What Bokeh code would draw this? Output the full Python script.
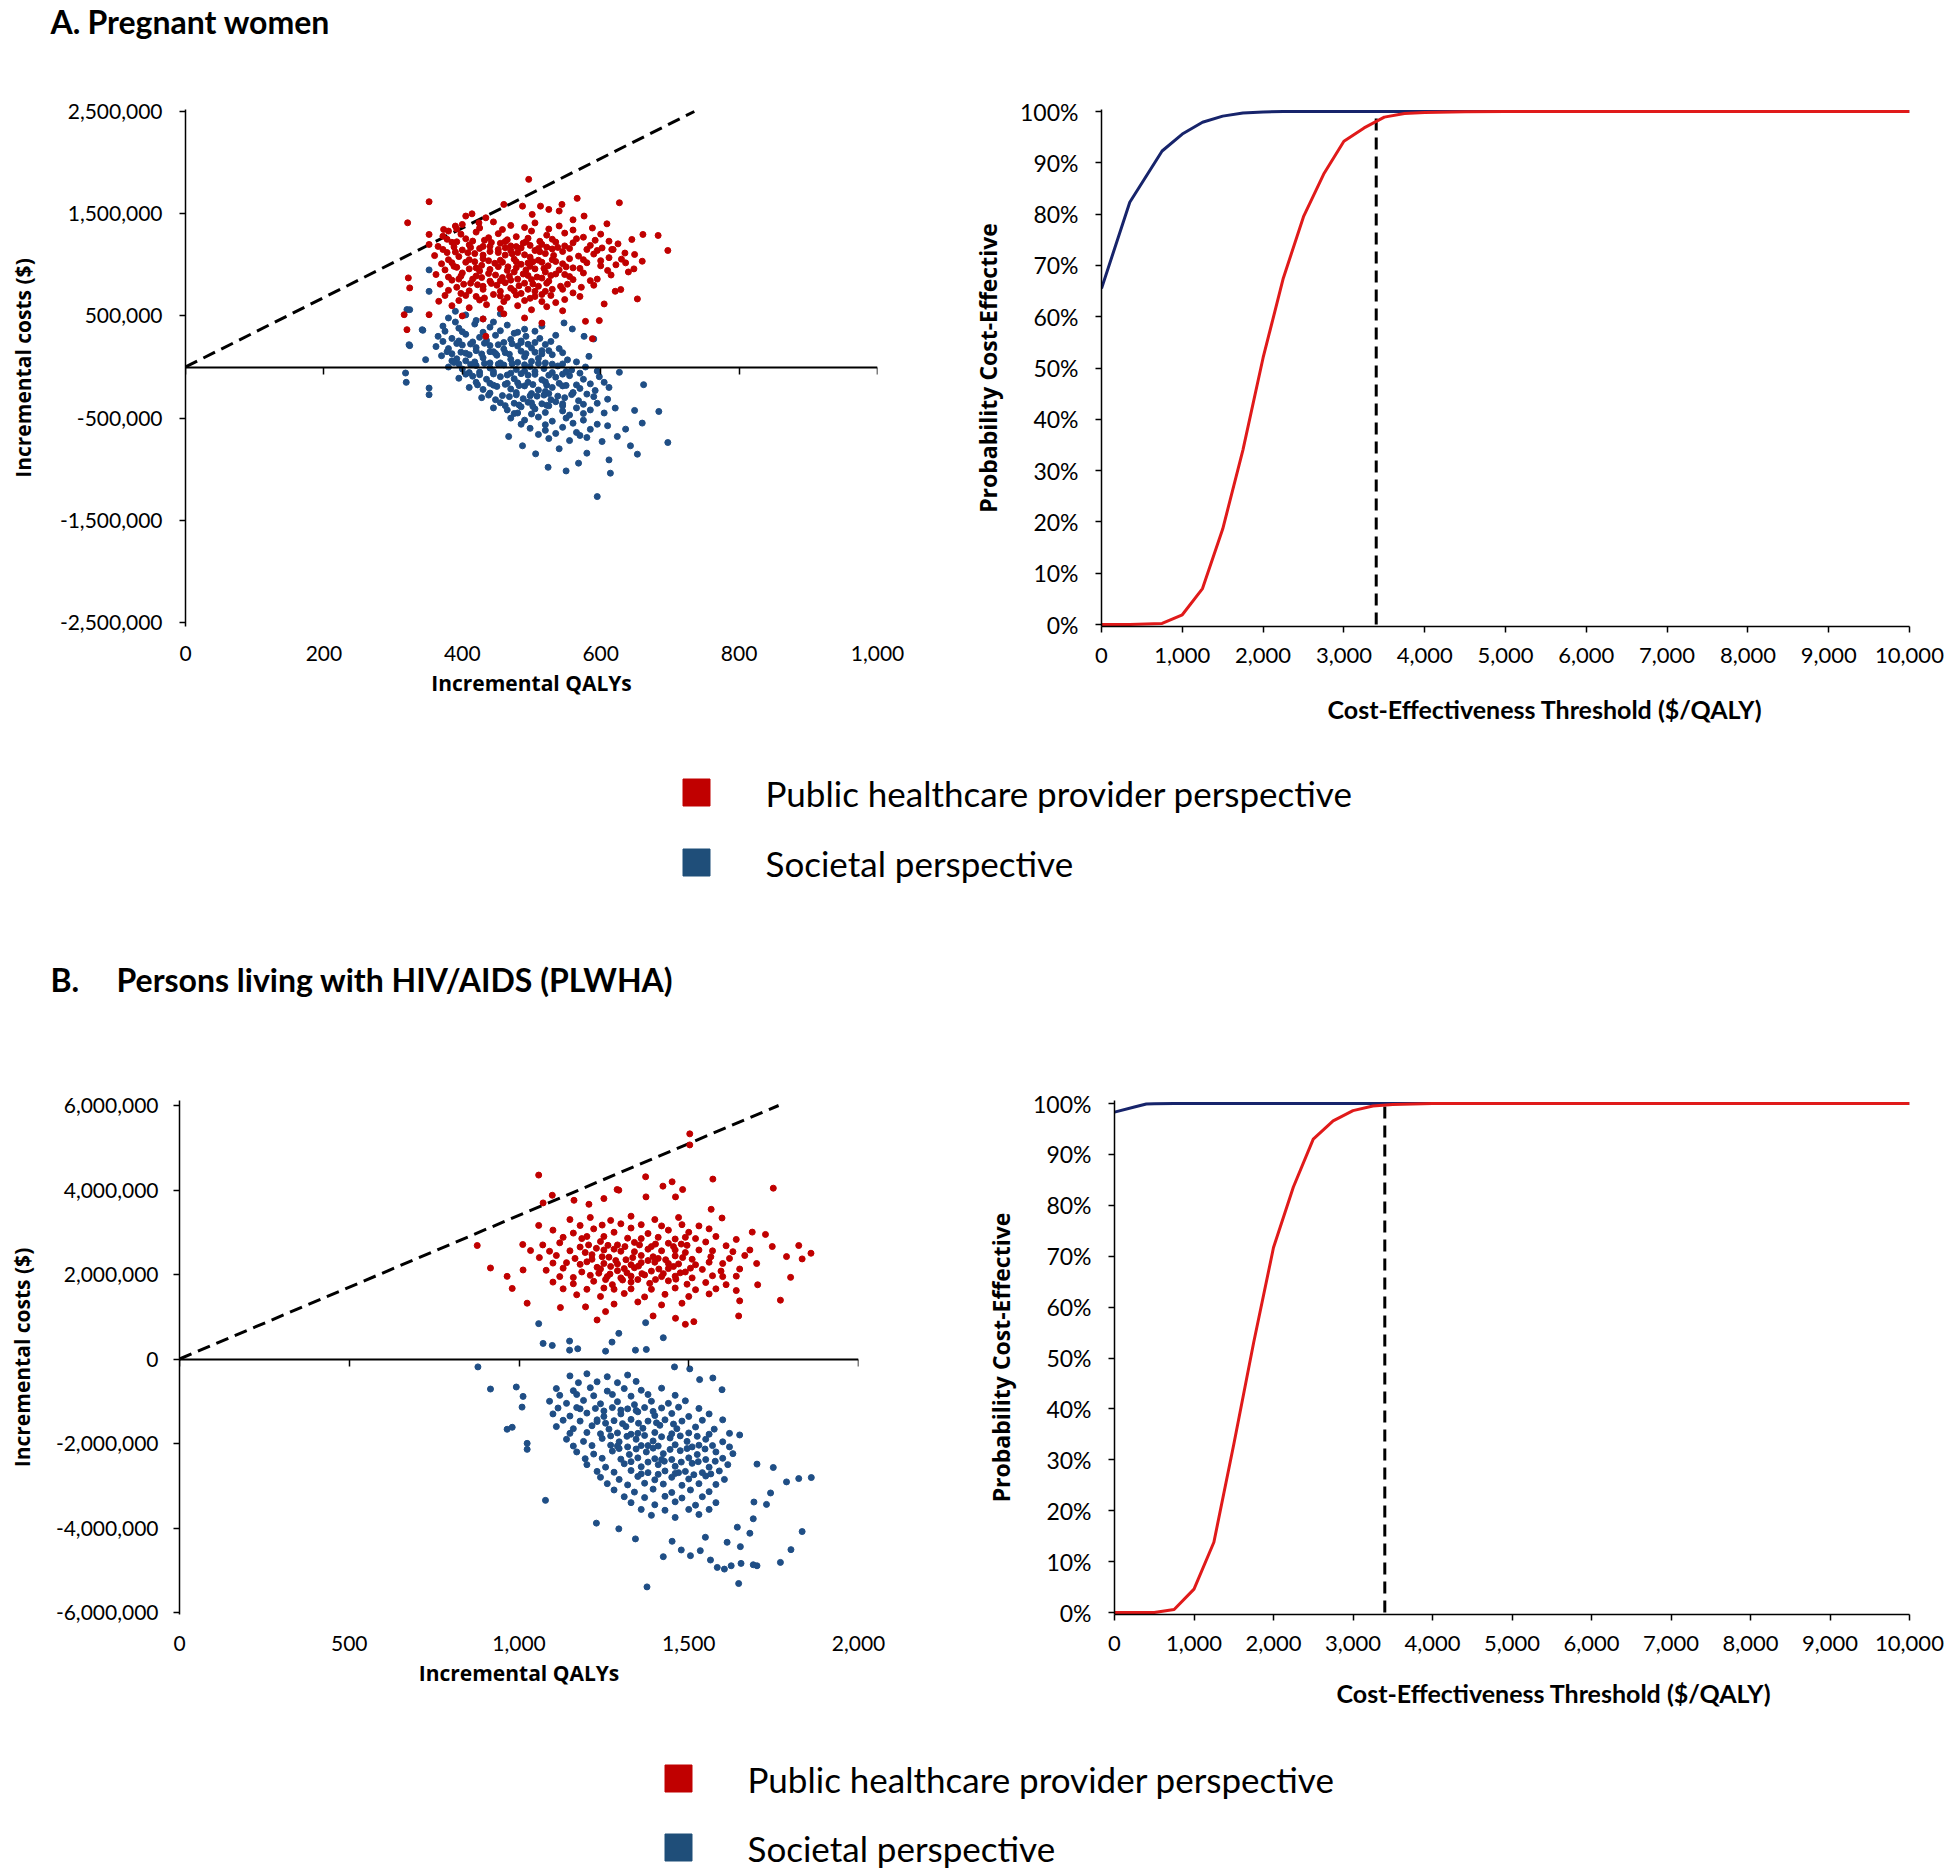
from bokeh.plotting import figure
from bokeh.layouts import column, row
from bokeh.models import (Range1d, LinearAxis, FixedTicker, NumeralTickFormatter,
                          PrintfTickFormatter, CustomJSTickFormatter, Title)
from bokeh.core.properties import value
from bokeh.embed import file_html
from bokeh.resources import INLINE

# ---------------- data ----------------
WTP = 3400  # cost-effectiveness threshold ($/QALY)

# Panel A scatter: (incremental QALYs, incremental cost in $ thousands)
a_provider_pts = [
    (496,1836),(352,1617),(321,1411),(566,1650),(627,1607),(697,1140),(683,1287),(661,1297),
    (645,1248),(660,1035),(649,1101),(636,1019),(653,666),(629,758),(621,741),(612,1231),
    (609,1401),(616,1150),(576,1477),(316,512),(320,365),(324,774),(322,872),(352,1297),
    (352,1199),(373,1346),(578,447),(598,454),(588,277),(605,617),(352,512),(366,643),
    (434,300),(405,1477),(414,1499),(460,1591),(487,1574),(513,1574),(525,1542),(540,1526),
    (544,1591),(501,1493),(434,1460),(424,1411),(390,1379),
    (400,1395),(445,1420),(470,1385),(505,1410),(540,1380),(560,1440),(588,1360),(380,1330),
    (372,1280),(398,1300),(420,1320),(452,1305),(478,1275),(500,1330),(522,1290),(548,1310),
    (575,1270),(600,1300),(365,1180),(385,1220),(410,1195),(432,1240),(455,1210),(470,1185),
    (492,1225),(515,1200),(538,1170),(560,1215),(585,1190),(602,1165),(625,1205),(360,1090),
    (378,1120),(395,1080),(418,1110),(440,1130),(462,1095),(480,1120),(498,1075),(520,1110),
    (545,1130),(568,1085),(590,1105),(612,1070),(635,1115),(370,1010),(388,985),(405,1025),
    (428,995),(447,1015),(466,980),(485,1005),(502,1030),(524,990),(545,1010),(560,970),
    (580,1020),(600,990),(622,1000),(648,960),(362,905),(380,880),(400,920),(420,890),
    (438,915),(458,875),(475,930),(495,895),(515,870),(535,910),(555,885),(575,920),
    (595,860),(615,900),(368,810),(392,780),(412,820),(430,790),(450,800),(470,770),
    (490,820),(510,790),(530,760),(552,810),(572,780),(590,800),(375,700),(398,720),
    (420,690),(445,710),(465,680),(485,720),(505,690),(528,700),(548,660),(570,690),
    (385,600),(410,580),(435,610),(455,570),(480,600),(500,560),(522,590),(545,550),
    (400,500),(430,470),(460,520),(490,480),(515,430),
    (410,1050),(455,1045),(492,950),(530,1050),(425,940),(470,1140),(510,1160),(440,840),
    (480,860),(520,930),(455,740),(505,740),(395,860),(545,760),(430,1180),(580,1150),
    (392,1350),(425,1360),(458,1345),(490,1365),(525,1350),(560,1340),
    (378,1250),(405,1255),(438,1265),(465,1245),(495,1260),(530,1250),(565,1255),(592,1240),
    (372,1150),(400,1145),(425,1160),(452,1150),(485,1165),(505,1140),(530,1155),(555,1160),
    (595,1140),(618,1150),(380,1050),(430,1060),(475,1055),(510,1045),(555,1060),(575,1050),
    (600,1040),(630,1055),(375,950),(410,960),(440,955),(465,945),(505,960),(540,950),
    (570,965),(610,945),(640,930),(385,850),(415,860),(455,845),(470,850),(500,855),
    (525,840),(560,855),(585,845),(380,750),(410,745),(430,760),(475,745),(495,760),
    (520,740),(560,725),(395,650),(425,655),(460,640),(490,650),(515,640),(535,630),
    (392,1225),(415,1232),(442,1218),(462,1228),(488,1212),(512,1230),(535,1222),
    (388,1175),(412,1170),(440,1180),(462,1168),(478,1178),(498,1190),(522,1172),(548,1185),
    (390,1125),(408,1118),(430,1095),(452,1120),(472,1108),(490,1098),(512,1128),(532,1092),
    (385,1020),(418,1030),(438,1040),(458,1025),(478,1030),(495,1018),(515,1025),(535,1032),
    (392,975),(420,970),(452,982),(478,972),(498,985),(518,965),(550,980),
    (398,890),(428,875),(448,900),(468,888),(488,910),(508,880),(528,895),(548,905),
    (402,810),(422,805),(442,818),(462,825),(482,795),(502,812),(522,820),(542,790),
    (405,700),(432,675),(455,695),(478,705),(498,672),(515,710),
]
a_societal_pts = [
    (595,-1268),(614,-1039),(550,-1017),(524,-981),(568,-941),(697,-739),(653,-853),(643,-771),
    (660,-549),(684,-435),(649,-425),(662,-173),(627,-52),(583,104),(590,274),(576,300),
    (559,372),(547,431),(324,209),(320,562),(318,-59),(319,-150),(347,72),(343,359),
    (352,-271),(352,-206),(612,-909),(624,-680),(636,-608),(487,-771),(506,-850),(467,-680),
    (621,-402),(580,-843),(602,-729),(352,950),(352,740),(324,561),(323,218),(342,365),(390,545),
    (380,480),(405,510),(430,470),(455,520),(372,400),(395,380),(418,420),(440,390),
    (465,410),(490,370),(515,400),(365,300),(385,280),(405,320),(425,290),(448,310),
    (470,270),(492,300),(512,280),(535,310),(362,200),(380,180),(400,215),(420,190),
    (440,210),(460,175),(480,205),(500,185),(520,220),(540,180),(370,110),(392,80),
    (410,120),(430,90),(450,115),(470,75),(490,100),(510,85),(530,120),(552,70),
    (380,0),(400,-20),(420,15),(440,-10),(460,20),(478,-25),(498,5),(518,-15),
    (538,10),(558,-30),(578,0),(395,-110),(415,-90),(435,-120),(455,-95),(475,-115),
    (495,-80),(515,-125),(535,-100),(555,-85),(575,-120),(598,-95),(410,-200),(430,-220),
    (450,-190),(470,-215),(490,-185),(510,-225),(530,-200),(550,-180),(570,-210),(592,-230),
    (612,-200),(428,-300),(448,-320),(468,-290),(488,-310),(508,-285),(528,-320),(548,-300),
    (568,-330),(590,-290),(610,-315),(445,-400),(465,-420),(485,-390),(505,-410),(525,-380),
    (545,-430),(565,-400),(585,-420),(605,-450),(470,-500),(490,-520),(510,-490),(530,-530),
    (550,-500),(575,-520),(595,-560),(498,-600),(520,-620),(545,-590),(565,-640),(585,-610),
    (525,-700),(555,-720),(580,-690),(540,-800),
    (405,60),(445,150),(485,240),(425,-50),(465,-160),(505,-45),(525,-260),(545,-360),
    (455,40),(495,-150),(385,60),(475,330),(515,160),(560,-250),(500,-350),(480,-450),
    (390,440),(420,455),(445,440),(375,350),(400,345),(430,340),(455,355),(480,340),
    (505,350),(372,250),(395,255),(415,245),(435,260),(460,240),(485,255),(505,240),
    (528,250),(378,150),(398,145),(420,160),(440,150),(462,140),(485,155),(505,145),
    (525,160),(545,140),(388,45),(418,50),(440,40),(480,45),(500,55),(520,40),
    (545,30),(565,50),(410,-55),(445,-45),(470,-60),(490,-40),(530,-55),(550,-45),
    (570,-60),(595,-40),(420,-150),(440,-160),(480,-155),(520,-145),(540,-160),(585,-165),
    (605,-150),(440,-255),(478,-250),(500,-260),(520,-240),(560,-255),(580,-265),(455,-350),
    (475,-355),(495,-345),(515,-360),(535,-340),(575,-365),(595,-355),(475,-455),(500,-460),
    (520,-445),(555,-470),(575,-455),(485,-560),(520,-565),(560,-550),(610,-575),(510,-660),
    (535,-650),(570,-670),
    (392,230),(412,225),(432,232),(452,218),(472,228),(495,222),
    (385,130),(405,135),(428,128),(448,132),(468,125),(492,130),(515,128),
    (395,30),(412,25),(432,35),(452,28),(472,32),(490,22),(510,35),(530,28),
    (405,-70),(425,-75),(445,-68),(465,-78),(485,-65),(505,-72),(525,-80),(545,-70),
    (422,-175),(445,-178),(462,-170),(482,-182),(502,-172),(522,-178),(545,-185),(565,-175),
    (438,-275),(458,-280),(478,-272),(498,-282),(518,-275),(538,-285),(558,-270),
    (462,-378),(482,-372),(502,-385),(522,-375),(545,-380),
]

# Panel B scatter: (incremental QALYs, incremental cost in $ thousands)
b_provider_pts = [
    (1503,5329),(1503,5067),(1058,4353),(1373,4313),(1571,4258),(1749,4043),(1424,4091),(1451,4194),
    (1482,4011),(1461,3837),(1374,3837),(1294,3996),(1098,3876),(1071,3694),(877,2686),(916,2154),
    (965,1956),(980,1670),(1024,1321),(1012,2107),(1860,2503),(1834,2369),(1824,2686),(1788,2424),
    (1800,1932),(1770,1392),(1726,2948),(1746,2662),(1703,1757),(1687,3003),(1647,1019),(1650,1376),
    (1566,3543),(1598,3337),(1515,884),(1490,821),(1461,964),(1395,1019),(1230,924),(1255,1122),
    (1122,1218),(1196,1234),(1058,3162),(1289,4011),(1162,3757),(1206,3662),(1250,3797),(1011,2710),
    (1034,2567),
    (1150,3300),(1210,3350),(1270,3280),(1330,3380),(1400,3300),(1470,3350),(1100,3050),(1160,2980),
    (1220,3080),(1280,3000),(1330,3100),(1380,2970),(1440,3050),(1500,3000),(1560,3080),(1070,2700),
    (1120,2750),(1180,2650),(1240,2780),(1290,2700),(1340,2760),(1390,2660),(1440,2740),(1495,2690),
    (1550,2770),(1610,2680),(1060,2400),(1110,2450),(1165,2380),(1215,2470),(1265,2410),(1315,2350),
    (1360,2450),(1410,2380),(1460,2440),(1510,2360),(1565,2420),(1620,2380),(1665,2450),(1080,2100),
    (1130,2150),(1185,2060),(1240,2130),(1290,2090),(1340,2160),(1390,2080),(1440,2140),(1490,2060),
    (1540,2120),(1595,2080),(1650,2130),(1100,1820),(1160,1780),(1220,1840),(1275,1760),(1330,1820),
    (1385,1790),(1440,1850),(1495,1770),(1550,1810),(1610,1760),(1170,1520),(1240,1480),(1310,1550),
    (1370,1470),(1430,1530),(1500,1480),(1560,1540),(1280,1300),(1350,1350),(1420,1280),(1480,1320),
    (1300,2550),(1360,2280),(1420,2560),(1250,2260),(1330,1960),(1470,2250),(1390,1650),(1200,2900),
    (1530,2580),(1280,1650),(1140,2280),(1600,1950),(1360,2850),(1420,1950),(1250,2580),(1490,2880),
    (1180,3160),(1245,3170),(1300,3200),(1360,3180),(1420,3150),(1480,3180),(1530,3150),
    (1130,2880),(1185,2850),(1250,2900),(1320,2860),(1410,2880),(1460,2840),(1520,2850),(1580,2900),
    (1640,2830),(1090,2550),(1150,2560),(1195,2520),(1280,2600),(1340,2540),(1380,2600),(1460,2580),
    (1490,2520),(1570,2560),(1630,2540),(1680,2580),(1100,2270),(1180,2240),(1200,2300),(1290,2250),
    (1330,2230),(1400,2290),(1440,2260),(1520,2230),(1560,2290),(1600,2260),(1700,2260),(1120,1950),
    (1160,1930),(1210,1980),(1260,1950),(1300,1920),(1370,1990),(1460,1960),(1510,1920),(1570,1970),
    (1640,1960),(1130,1660),(1200,1650),(1250,1680),(1330,1660),(1460,1680),(1520,1640),(1580,1660),
    (1640,1620),
    (1205,2700),(1228,2620),(1262,2690),(1312,2660),(1355,2700),(1402,2720),(1455,2660),(1478,2720),
    (1215,2360),(1245,2420),(1285,2330),(1335,2400),(1380,2330),(1395,2420),(1432,2350),(1482,2400),
    (1230,2170),(1270,2190),(1310,2140),(1352,2200),(1412,2130),(1455,2190),(1505,2150),
    (1235,2030),(1268,2010),(1318,2040),(1362,2020),(1425,2020),(1475,2040),
    (1255,1880),(1305,1870),(1350,1880),(1402,1880),(1462,1890),
]
b_societal_pts = [
    (879,-187),(916,-711),(992,-663),(965,-1663),(980,-1616),(1024,-2139),(1024,-1997),(1078,-3346),
    (1012,-885),(1009,-1139),(1294,607),(1425,504),(1071,369),(1098,321),(1149,424),(1149,210),
    (1173,242),(1255,186),(1274,400),(1343,210),(1375,226),(1058,837),(1373,860),(1377,-5394),
    (1647,-5314),(1834,-4084),(1801,-4512),(1770,-4814),(1701,-4894),(1690,-4870),(1654,-4838),(1625,-4894),
    (1605,-4973),(1584,-4933),(1564,-4758),(1861,-2806),(1824,-2830),(1788,-2909),(1749,-2568),(1729,-3441),
    (1741,-3171),(1701,-2488),(1650,-1798),(1690,-3782),(1680,-4124),(1613,-4338),(1652,-4441),(1598,-727),
    (1571,-449),(1532,-488),(1503,-234),(1458,-187),(1425,-4679),(1343,-4258),(1294,-4020),(1228,-3885),
    (1505,-4655),(1534,-4536),(1478,-4520),(1451,-4314),(1549,-4219),(1643,-3981),(1692,-3385),
    (1150,-400),(1200,-350),(1260,-420),(1320,-380),(1110,-700),(1160,-750),(1210,-680),(1260,-760),
    (1310,-700),(1360,-740),(1420,-690),(1090,-1000),(1140,-1050),(1190,-980),(1240,-1060),(1290,-1010),
    (1340,-1080),(1390,-1000),(1440,-1050),(1490,-990),(1100,-1300),(1150,-1350),(1200,-1280),(1250,-1360),
    (1300,-1300),(1350,-1250),(1400,-1340),(1450,-1290),(1500,-1360),(1560,-1300),(1110,-1600),(1160,-1650),
    (1215,-1580),(1265,-1660),(1315,-1600),(1365,-1640),(1415,-1570),(1465,-1650),(1520,-1610),(1575,-1660),
    (1140,-1900),(1190,-1950),(1245,-1880),(1295,-1960),(1345,-1900),(1395,-1940),(1445,-1870),(1495,-1950),
    (1550,-1900),(1600,-1960),(1170,-2200),(1220,-2250),(1275,-2180),(1325,-2260),(1375,-2200),(1425,-2240),
    (1475,-2170),(1525,-2260),(1580,-2200),(1630,-2240),(1200,-2500),(1255,-2560),(1310,-2480),(1360,-2550),
    (1410,-2500),(1460,-2540),(1510,-2470),(1560,-2560),(1615,-2500),(1240,-2800),(1295,-2850),(1350,-2780),
    (1400,-2860),(1450,-2800),(1500,-2840),(1550,-2770),(1605,-2850),(1280,-3100),(1340,-3150),(1395,-3080),
    (1450,-3160),(1505,-3100),(1560,-3140),(1330,-3400),(1400,-3450),(1460,-3380),(1520,-3460),(1580,-3400),
    (1390,-3700),(1460,-3750),(1530,-3680),
    (1230,-1480),(1330,-1780),(1380,-2050),(1420,-2380),(1290,-2060),(1470,-2690),(1180,-1180),(1530,-2040),
    (1175,-560),(1230,-540),(1290,-560),(1345,-530),(1120,-860),(1170,-840),(1220,-870),(1275,-840),
    (1330,-880),(1380,-840),(1460,-860),(1115,-1160),(1170,-1150),(1225,-1170),(1275,-1150),(1320,-1180),
    (1370,-1150),(1420,-1160),(1470,-1140),(1530,-1170),(1130,-1450),(1180,-1470),(1230,-1440),(1280,-1460),
    (1330,-1430),(1380,-1470),(1430,-1440),(1480,-1470),(1540,-1450),(1600,-1440),(1150,-1760),(1200,-1740),
    (1240,-1770),(1290,-1750),(1350,-1760),(1400,-1740),(1450,-1770),(1500,-1750),(1560,-1780),(1620,-1760),
    (1160,-2060),(1215,-2050),(1270,-2040),(1320,-2080),(1360,-2050),(1410,-2060),(1460,-2030),(1510,-2080),
    (1570,-2050),(1620,-2080),(1195,-2360),(1245,-2350),(1300,-2370),(1350,-2340),(1400,-2360),(1450,-2380),
    (1500,-2340),(1550,-2380),(1600,-2350),(1230,-2660),(1280,-2680),(1330,-2640),(1380,-2690),(1430,-2650),
    (1490,-2660),(1540,-2690),(1590,-2650),(1260,-2950),(1320,-2980),(1370,-2940),(1425,-2960),(1480,-2990),
    (1530,-2950),(1580,-2970),(1310,-3260),(1370,-3280),(1430,-3250),(1480,-3290),(1540,-3260),(1360,-3560),
    (1430,-3580),(1500,-3560),(1560,-3560),
    (1250,-1230),(1300,-1210),(1345,-1220),(1395,-1240),
    (1255,-1520),(1305,-1530),(1352,-1520),(1405,-1510),(1455,-1540),
    (1270,-1820),(1318,-1830),(1370,-1810),(1420,-1840),(1475,-1820),(1525,-1830),
    (1295,-2120),(1345,-2130),(1395,-2110),(1445,-2140),(1495,-2120),(1548,-2130),
    (1330,-2430),(1380,-2440),(1428,-2420),(1478,-2440),(1528,-2430),(1578,-2420),
    (1360,-2720),(1410,-2730),(1460,-2710),(1515,-2740),(1565,-2720),
]

# Scatter axis ticks
a_qaly_ticks = [0, 200, 400, 600, 800, 1000]
a_cost_ticks = [-2500000, -1500000, -500000, 500000, 1500000, 2500000]
b_qaly_ticks = [0, 500, 1000, 1500, 2000]
b_cost_ticks = [-6000000, -4000000, -2000000, 0, 2000000, 4000000, 6000000]

# CEAC data (probability cost-effective, %)
ceac_a_threshold = [0, 350, 750, 1000, 1250, 1500, 1750, 2000, 2250, 2500, 2750, 3000,
                    3250, 3500, 3750, 4000, 4500, 5000, 6000, 7000, 8000, 9000, 10000]
ceac_a_provider = [0, 0, 0.2, 1.9, 7.0, 18.6, 34.0, 52.0, 67.5, 79.5, 87.8, 94.2,
                   96.8, 98.9, 99.6, 99.8, 99.95, 100, 100, 100, 100, 100, 100]
ceac_a_societal = [65.5, 82.3, 92.3, 95.6, 97.9, 99.1, 99.7, 99.9, 100, 100, 100, 100,
                   100, 100, 100, 100, 100, 100, 100, 100, 100, 100, 100]

ceac_b_threshold = [0, 250, 400, 500, 750, 1000, 1250, 1500, 1750, 2000, 2250, 2500,
                    2750, 3000, 3250, 3500, 3750, 4000, 5000, 6000, 7000, 8000, 9000, 10000]
ceac_b_provider = [0, 0, 0, 0, 0.6, 4.6, 13.8, 33.0, 53.0, 71.7, 83.6, 93.0,
                   96.6, 98.6, 99.5, 99.8, 99.9, 100, 100, 100, 100, 100, 100, 100]
ceac_b_societal = [98.3, 99.3, 99.9, 99.95, 100, 100, 100, 100, 100, 100, 100, 100,
                   100, 100, 100, 100, 100, 100, 100, 100, 100, 100, 100, 100]

ceac_x_ticks = list(range(0, 10001, 1000))
ceac_y_ticks = list(range(0, 101, 10))

legend_labels = ["Public healthcare provider perspective", "Societal perspective"]

# ---------------- style ----------------
RED_PT = "#c00000"
BLUE_PT = "#1f4e85"
RED_LN = "#e01a1a"
BLUE_LN = "#17246b"
TICK_FONT = "Lato"
TITLE_FONT = "Open Sans"


def style_axis(ax, tick_size):
    ax.major_label_text_font = TICK_FONT
    ax.major_label_text_font_size = tick_size
    ax.major_label_text_color = "black"
    ax.axis_label_text_font_style = "bold"
    ax.axis_label_text_color = "black"
    ax.minor_tick_line_color = None
    ax.major_tick_in = 0
    ax.major_tick_out = 6
    ax.axis_line_color = "black"
    ax.axis_line_width = 1.5
    ax.major_tick_line_color = "black"
    ax.major_tick_line_width = 1.5


def padded_range(lo, hi, lo_px, hi_px, frame_top_px, frame_bottom_px):
    """Range whose values lo/hi land at the given pixel rows inside a shared frame."""
    per_px = (hi - lo) / (lo_px - hi_px)
    return Range1d(lo - (frame_bottom_px - lo_px) * per_px,
                   hi + (hi_px - frame_top_px) * per_px)


def scatter_panel(prov, soc, xmax, xticks, yr, yticks, width, height, mb,
                  x_std, y_std, y_title_std):
    p = figure(width=width, height=height, x_range=Range1d(0, xmax),
               y_range=yr, output_backend="svg",
               toolbar_location=None, min_border_left=mb[0], min_border_right=mb[1],
               min_border_top=mb[2], min_border_bottom=mb[3])
    p.grid.visible = False
    p.outline_line_color = None
    p.background_fill_color = "white"
    p.border_fill_color = "white"

    xa = p.xaxis[0]
    style_axis(xa, "21px")
    xa.ticker = FixedTicker(ticks=xticks)
    xa.formatter = NumeralTickFormatter(format="0,0")
    xa.axis_line_color = None
    xa.major_tick_line_color = None
    xa.major_tick_out = 0
    xa.major_label_standoff = x_std
    xa.axis_label = "Incremental QALYs"
    xa.axis_label_text_font = TITLE_FONT
    xa.axis_label_text_font_size = "21px"
    xa.axis_label_standoff = 5

    zero_ax = LinearAxis(fixed_location=0, ticker=FixedTicker(ticks=xticks),
                         formatter=CustomJSTickFormatter(code="return ''"))
    style_axis(zero_ax, "21px")
    zero_ax.axis_line_width = 2
    zero_ax.major_tick_out = 7
    p.add_layout(zero_ax, "below")

    ya = p.yaxis[0]
    style_axis(ya, "21px")
    ya.ticker = FixedTicker(ticks=yticks)
    ya.formatter = NumeralTickFormatter(format="0,0")
    ya.major_label_standoff = y_std
    ya.axis_label = "Incremental costs ($)"
    ya.axis_label_text_font = TITLE_FONT
    ya.axis_label_text_font_size = "21px"
    ya.axis_label_standoff = y_title_std

    ymax = yticks[-1]
    p.line([0, ymax / WTP], [0, ymax], line_color="black", line_width=3, line_dash="13 7")
    p.scatter([q for q, c in soc], [c * 1000 for q, c in soc], size=6,
              fill_color=BLUE_PT, line_color=BLUE_PT)
    p.scatter([q for q, c in prov], [c * 1000 for q, c in prov], size=6,
              fill_color=RED_PT, line_color=RED_PT)
    return p


def ceac_panel(thr, prov, thr_s, soc, yr, width, height, mb, title_offset, title_standoff):
    p = figure(width=width, height=height, x_range=Range1d(0, 10000),
               y_range=yr, output_backend="svg",
               toolbar_location=None, min_border_left=mb[0], min_border_right=mb[1],
               min_border_top=mb[2], min_border_bottom=mb[3])
    p.grid.visible = False
    p.outline_line_color = None
    xa = p.xaxis[0]
    style_axis(xa, "22px")
    xa.ticker = FixedTicker(ticks=ceac_x_ticks)
    xa.formatter = NumeralTickFormatter(format="0,0")
    xa.major_label_standoff = 15
    ya = p.yaxis[0]
    style_axis(ya, "23px")
    ya.ticker = FixedTicker(ticks=ceac_y_ticks)
    ya.formatter = PrintfTickFormatter(format="%d%%")
    ya.major_label_standoff = 17
    ya.axis_label = "Probability Cost-Effective"
    ya.axis_label_text_font = TITLE_FONT
    ya.axis_label_text_font_size = "23px"
    ya.axis_label_standoff = 13

    p.add_layout(Title(text="Cost-Effectiveness Threshold ($/QALY)", align="left",
                       offset=title_offset, standoff=title_standoff, text_font="Lato",
                       text_font_style="bold", text_font_size="25px",
                       text_color="black"), "below")

    p.line([WTP, WTP], [0, 100], line_color="black", line_width=3, line_dash="12 7")
    p.line(thr_s, soc, line_color=BLUE_LN, line_width=3)
    p.line(thr, prov, line_color=RED_LN, line_width=3)
    return p


def blank(width, height):
    p = figure(width=width, height=height, x_range=Range1d(0, width),
               y_range=Range1d(height, 0), output_backend="svg", toolbar_location=None,
               x_axis_location=None, y_axis_location=None, min_border=0)
    p.grid.visible = False
    p.outline_line_color = None
    return p


def title_fig(height, letter, text, ty, lx, tx):
    p = blank(1950, height)
    p.text(x=[lx], y=[ty], text=[letter], text_font=value("Lato"), text_font_style="bold",
           text_font_size="32px", text_baseline="middle", text_color="black")
    p.text(x=[tx], y=[ty], text=[text], text_font=value("Lato"), text_font_style="bold",
           text_font_size="32px", text_baseline="middle", text_color="black")
    return p


def legend_fig(height, sx, tx, y1, y2):
    p = blank(1950, height)
    p.scatter(x=[sx, sx], y=[y1, y2], marker="square", size=27,
              fill_color=[RED_PT, "#1f4e79"], line_color=[RED_PT, "#1f4e79"])
    p.text(x=[tx, tx], y=[y1, y2], text=legend_labels, text_font=value("Lato"),
           text_font_size="35px", text_baseline="middle", text_color="black")
    return p


# ---- row A: top at 60, shared frame rows 109..626 (page pixels) ----
title_a = title_fig(60, "A.", "Pregnant women", 21, 50, 87)
ra_top, ra_h, fa_top, fa_bot = 60, 710, 109, 626
mb_a = (fa_top - ra_top, ra_top + ra_h - fa_bot)
scat_a = scatter_panel(a_provider_pts, a_societal_pts, 1000, a_qaly_ticks,
                       padded_range(a_cost_ticks[0], a_cost_ticks[-1], 622, 111, fa_top, fa_bot),
                       a_cost_ticks, 960, ra_h, (185, 83) + mb_a, 19, 17, 20)
ceac_a = ceac_panel(ceac_a_threshold, ceac_a_provider, ceac_a_threshold, ceac_a_societal,
                    padded_range(0, 100, 624, 111, fa_top, fa_bot),
                    990, ra_h, (141, 41) + mb_a, 226, 52)
legend_a = legend_fig(130, 696, 765, 22, 92)

# ---- row B: top at 1050, shared frame rows 1100..1614 ----
title_b = title_fig(150, "B.", "Persons living with HIV/AIDS (PLWHA)", 79, 50, 116)
rb_top, rb_h, fb_top, fb_bot = 1050, 690, 1100, 1614
mb_b = (fb_top - rb_top, rb_top + rb_h - fb_bot)
scat_b = scatter_panel(b_provider_pts, b_societal_pts, 2000, b_qaly_ticks,
                       padded_range(b_cost_ticks[0], b_cost_ticks[-1], 1612, 1105, fb_top, fb_bot),
                       b_cost_ticks, 960, rb_h, (179, 102) + mb_b, 21, 15, 17)
ceac_b = ceac_panel(ceac_b_threshold, ceac_b_provider, ceac_b_threshold, ceac_b_societal,
                    padded_range(0, 100, 1612, 1103, fb_top, fb_bot),
                    990, rb_h, (154, 41) + mb_b, 222, 44)
legend_b = legend_fig(134, 678, 747, 38, 107)

layout = column(title_a, row(scat_a, ceac_a), legend_a, title_b, row(scat_b, ceac_b), legend_b)

open("out.html", "w").write(file_html(layout, INLINE))
